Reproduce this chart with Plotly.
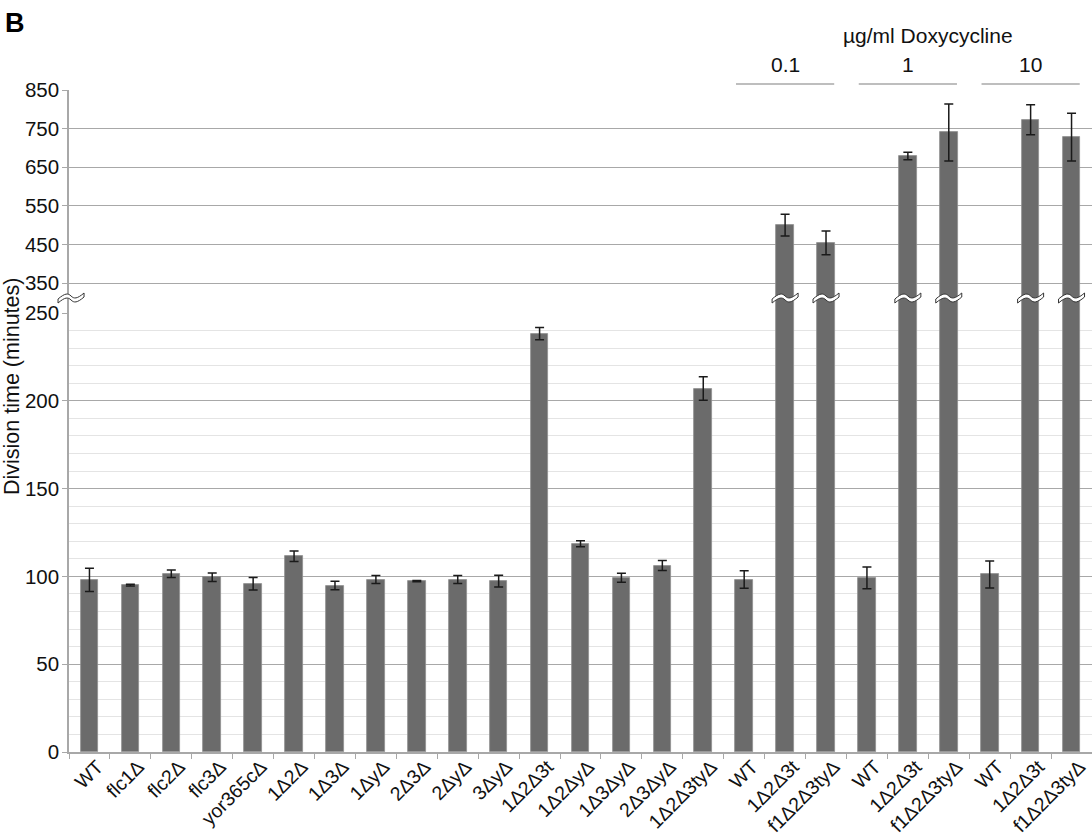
import plotly.graph_objects as go

# Strains (x categories), mean division time and error, in minutes
strains = [
    "WT", "flc1Δ", "flc2Δ", "flc3Δ", "yor365cΔ", "1Δ2Δ", "1Δ3Δ", "1ΔyΔ",
    "2Δ3Δ", "2ΔyΔ", "3ΔyΔ", "1Δ2Δ3t", "1Δ2ΔyΔ", "1Δ3ΔyΔ", "2Δ3ΔyΔ",
    "1Δ2Δ3tyΔ",
    "WT", "1Δ2Δ3t", "f1Δ2Δ3tyΔ",
    "WT", "1Δ2Δ3t", "f1Δ2Δ3tyΔ",
    "WT", "1Δ2Δ3t", "f1Δ2Δ3tyΔ",
]
division_time = [
    98, 95, 101.5, 99.5, 95.8, 111.5, 94.8, 98.2,
    97.3, 98.2, 97.3, 238.3, 118.6, 99.2, 106.2,
    207,
    98.2, 500, 454,
    99.2, 679, 740,
    101.1, 773, 728,
]
error = [
    6.6, 0.5, 2.1, 2.4, 3.6, 3.0, 2.4, 2.3,
    0.4, 2.3, 3.3, 3.5, 1.7, 2.6, 2.9,
    6.7,
    5.0, 28, 31,
    6.2, 9.5, 74,
    7.7, 39, 62,
]
dox_levels = ["0.1", "1", "10"]   # µg/ml, each applied to the last strains in groups of 3
strains_per_dose = 3

lower_ticks = [0, 50, 100, 150, 200, 250]
upper_ticks = [350, 450, 550, 650, 750, 850]

# ---- layout geometry -------------------------------------------------------
W, H = 1092, 840
M_L, M_R, M_T, M_B = 69, 0, 90, 88
plot_h = H - M_T - M_B
lower_px = 439                       # height of the 0-250 panel
split = lower_px / plot_h            # domain fraction where the panels meet
upper_lo = 272.3                     # upper axis starts below 350 so bars run through the break
break_mid = (upper_ticks[0] + upper_lo) / 2

FONT = "Liberation Sans, Arial, sans-serif"
BAR = "#6b6b6b"
GRID = "#a8a8a8"
MINOR = "#e4e4e4"
AXIS = "#a8a8a8"

x = list(range(len(strains)))

fig = go.Figure()
for yax in ("y", "y2"):
    fig.add_trace(go.Bar(
        x=x, y=division_time, yaxis=yax, xaxis="x",
        width=0.43,
        marker=dict(color=BAR, line=dict(color="#8f8f8f", width=0.8)),
        error_y=dict(type="data", array=error, visible=True,
                     color="#1a1a1a", thickness=1.5, width=4.5),
        showlegend=False, hoverinfo="skip",
    ))

fig.update_layout(
    width=W, height=H,
    margin=dict(l=M_L, r=M_R, t=M_T, b=M_B, autoexpand=False),
    paper_bgcolor="white", plot_bgcolor="white",
    font=dict(family=FONT, size=20, color="#111111"),
    bargap=0,
    xaxis=dict(
        range=[-0.5, len(strains) - 0.5],
        tickmode="array", tickvals=x, ticktext=strains,
        tickangle=-45, ticks="",
        ticklabelshift=8, ticklabelstandoff=-6,
        showgrid=False, zeroline=False,
        showline=True, linecolor=AXIS, linewidth=1.5,
        anchor="y", automargin=False,
        minor=dict(tickmode="linear", tick0=-0.5, dtick=1,
                   ticks="outside", ticklen=5, tickcolor=AXIS, tickwidth=1.2,
                   showgrid=False),
        tickfont=dict(size=19.5),
    ),
    yaxis=dict(
        domain=[0, split], range=[0, 250],
        tickmode="array", tickvals=lower_ticks,
        showgrid=True, gridcolor=GRID, gridwidth=1.3,
        zeroline=False,
        showline=True, linecolor=AXIS, linewidth=1.5,
        ticks="outside", ticklen=5, tickcolor=AXIS,
        ticklabelstandoff=-1,
        minor=dict(tickmode="linear", tick0=0, dtick=10,
                   showgrid=True, gridcolor=MINOR, gridwidth=1),
        anchor="x", automargin=False,
        tickfont=dict(size=20.5),
    ),
    yaxis2=dict(
        domain=[split, 1], range=[upper_lo, 850],
        tickmode="array", tickvals=upper_ticks,
        showgrid=True, gridcolor=GRID, gridwidth=1.3,
        zeroline=False,
        showline=True, linecolor=AXIS, linewidth=1.5,
        ticks="outside", ticklen=5, tickcolor=AXIS,
        ticklabelstandoff=-1,
        anchor="x", automargin=False,
        tickfont=dict(size=20.5),
    ),
)

# ---- break markers ("≈") on the axis and on every bar crossing the break ----
wave = ("M -13,-1 C -6,5 -3,5 0,2 C 3,-1 6,-1 13,5 "
        "L 13,1 C 6,-5 3,-5 0,-2 C -3,1 -6,1 -13,-5 Z")
shapes = []
for i, v in enumerate(division_time):
    if v > lower_ticks[-1]:
        shapes.append(dict(type="path", path=wave,
                           xref="x", yref="y2",
                           xsizemode="pixel", ysizemode="pixel",
                           xanchor=i, yanchor=break_mid,
                           fillcolor="white",
                           line=dict(color="#333333", width=1)))
shapes.append(dict(type="path", path=wave,
                   xref="paper", yref="y2",
                   xsizemode="pixel", ysizemode="pixel",
                   xanchor=0.002, yanchor=break_mid,
                   fillcolor="white", line=dict(color="#333333", width=1)))

# ---- doxycycline group header ----------------------------------------------
annotations = []
first_dox = len(strains) - strains_per_dose * len(dox_levels)
centres = []
for k, lvl in enumerate(dox_levels):
    c = first_dox + strains_per_dose * k + (strains_per_dose - 1) / 2
    centres.append(c)
    annotations.append(dict(text=lvl, x=c, y=1.0378, xref="x", yref="paper",
                            showarrow=False, xanchor="center", yanchor="middle",
                            font=dict(size=21)))
    shapes.append(dict(type="line", xref="x", yref="paper",
                       x0=c - 1.2, x1=c + 1.2, y0=1.009, y1=1.009,
                       line=dict(color=GRID, width=1.5)))
annotations.append(dict(text="µg/ml Doxycycline",
                        x=(centres[0] + centres[-1]) / 2 + 0.5, y=1.0816,
                        xref="x", yref="paper", showarrow=False,
                        xanchor="center", yanchor="middle", font=dict(size=21)))

# axis title and panel letter
annotations.append(dict(text="Division time (minutes)", textangle=-90,
                        x=(12 - M_L) / (W - M_L - M_R), y=(H - M_B - 387) / plot_h,
                        xref="paper", yref="paper", showarrow=False,
                        xanchor="center", yanchor="middle", font=dict(size=21.5)))
annotations.append(dict(text="<b>B</b>",
                        x=(3 - M_L) / (W - M_L - M_R), y=(H - M_B - 23) / plot_h,
                        xref="paper", yref="paper", showarrow=False,
                        xanchor="left", yanchor="middle",
                        font=dict(size=27, color="black")))

fig.update_layout(shapes=shapes, annotations=annotations)
fig.write_html("out.html")
